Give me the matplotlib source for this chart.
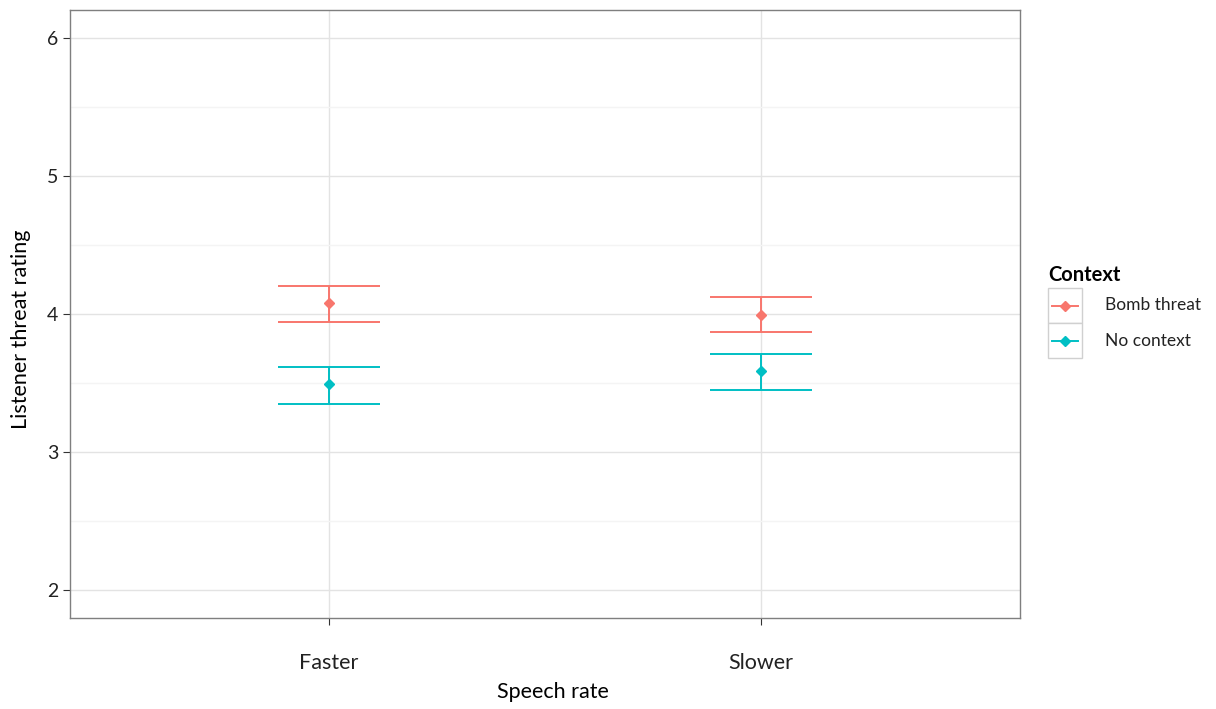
import matplotlib
matplotlib.use("Agg")
import matplotlib.pyplot as plt
from matplotlib.lines import Line2D
from matplotlib.patches import Rectangle
import numpy as np

# ---------- data ----------
rates = ["Faster", "Slower"]
contexts = ["Bomb threat", "No context"]
means = {
    "Bomb threat": [4.08, 3.99],
    "No context": [3.49, 3.59],
}
lower = {
    "Bomb threat": [3.94, 3.87],
    "No context": [3.35, 3.45],
}
upper = {
    "Bomb threat": [4.20, 4.12],
    "No context": [3.62, 3.71],
}
COLORS = {"Bomb threat": "#F8766D", "No context": "#00BFC4"}

plt.rcParams["font.family"] = ["Lato", "DejaVu Sans"]

fig = plt.figure(figsize=(12.16, 7.09), dpi=100)
ax = fig.add_axes([70 / 1216, 1 - 618 / 709, 950 / 1216, 608 / 709])

x = np.arange(1, len(rates) + 1)
cap = 0.118
for ctx in contexts:
    c = COLORS[ctx]
    lo, hi, m = np.array(lower[ctx]), np.array(upper[ctx]), np.array(means[ctx])
    ax.vlines(x, lo, hi, color=c, lw=1.4, zorder=3)
    ax.hlines(lo, x - cap, x + cap, color=c, lw=1.4, zorder=3)
    ax.hlines(hi, x - cap, x + cap, color=c, lw=1.4, zorder=3)
    ax.plot(x, m, "D", color=c, ms=5, zorder=4, linestyle="none")

ax.set_xlim(0.4, 2.6)
ax.set_ylim(1.8, 6.2)
ax.set_xticks(x)
ax.set_xticklabels(rates, fontsize=15.5)
ax.set_yticks([2, 3, 4, 5, 6])
ax.set_yticks([2.5, 3.5, 4.5, 5.5], minor=True)
ax.tick_params(axis="y", which="minor", length=0)
ax.tick_params(axis="y", which="major", labelsize=14)
ax.tick_params(axis="both", which="major", length=5,
               color="#333333", labelcolor="#222222")
ax.tick_params(axis="x", pad=20)

ax.grid(which="major", color="#e3e3e3", lw=1.0, zorder=0)
ax.grid(which="minor", axis="y", color="#f4f4f4", lw=1.0, zorder=0)
ax.set_axisbelow(True)
for s in ax.spines.values():
    s.set_color("#7f7f7f")
    s.set_linewidth(1.0)

ax.set_xlabel("Speech rate", fontsize=15.5)
ax.set_ylabel("Listener threat rating", fontsize=15.5)
ax.xaxis.set_label_coords(0.508, -0.105)
ax.yaxis.set_label_coords(-0.041, 0.475)

# ---------- legend (ggplot style with boxed keys) ----------
W, H = 1216, 709
fig.text(1048 / W, 1 - 275 / H, "Context", fontsize=14.5, fontweight="bold",
         va="center", ha="left")
for i, ctx in enumerate(contexts):
    ytop = 288 + i * 35
    fig.add_artist(Rectangle((1048 / W, 1 - (ytop + 35) / H), 34 / W, 35 / H,
                             transform=fig.transFigure, facecolor="white",
                             edgecolor="#d0d0d0", lw=1.0))
    yc = 1 - (ytop + 17.5) / H
    fig.add_artist(Line2D([1052 / W, 1078 / W], [yc, yc], transform=fig.transFigure,
                          color=COLORS[ctx], lw=1.4))
    fig.add_artist(Line2D([1065 / W], [yc], transform=fig.transFigure,
                          marker="D", ms=5, color=COLORS[ctx]))
    fig.text(1105 / W, yc, ctx, fontsize=12.5, va="center", ha="left", color="#222222")

fig.savefig("out.png", dpi=100, facecolor="white")
